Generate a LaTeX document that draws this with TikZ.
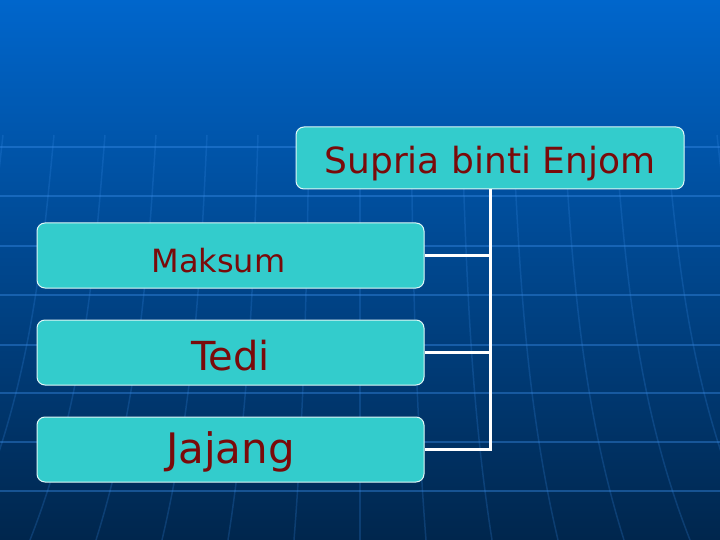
\documentclass[tikz,border=0pt]{standalone}
\usepackage{fontspec}
\setmainfont{DejaVu Sans}
\usepackage{tikz}
\usetikzlibrary{positioning}
\definecolor{bgtop}{HTML}{0066CC}
\definecolor{bgbot}{HTML}{00264D}
\definecolor{boxfill}{HTML}{33CCCC}
\definecolor{namecol}{HTML}{7A0A0A}
\definecolor{gridcol}{HTML}{3B8EEA}

\begin{document}
\begin{tikzpicture}[x=1pt,y=-1pt,
  member/.style={draw=white!85!boxfill,line width=1pt,fill=boxfill,rounded corners=8pt,
    text=namecol,minimum width=387pt,minimum height=65pt,inner sep=0pt,
    text height=31pt,text depth=0pt},
  link/.style={draw=white,line width=3pt},
  parallel/.style={gridcol,line width=2pt,opacity=0.4},
  meridian/.style={gridcol,line width=1.5pt,opacity=0.22}]
% background
\useasboundingbox (0,0) rectangle (720,540);
\shade[top color=bgtop,bottom color=bgbot] (0,0) rectangle (720,540);
\begin{scope}
\clip (0,0) rectangle (720,540);
% globe grid (indicative)
\foreach \y in {147,196,246,295,345,393,442,491}
  \draw[parallel] (0,\y) -- (720,\y);
\foreach \k in {-8,...,8}
  \draw[meridian] (360+\k*51,135) .. controls (360+\k*53,260) and (360+\k*55,400) .. (360+\k*66,540);
\end{scope}
% family boxes
\node[member,minimum width=388pt,minimum height=62pt,font=\fontsize{36}{40}\selectfont] (mother) at (490,158) {Supria binti Enjom};
\node[member,text height=33pt,font=\fontsize{32}{36}\selectfont] (maksum) at (230.5,255.5) {Maksum\kern24pt};
\node[member,text height=35pt,font=\fontsize{40}{44}\selectfont] (tedi) at (230.5,352.5) {Tedi};
\node[member,text height=27pt,font=\fontsize{42}{46}\selectfont] (jajang) at (230.5,449.5) {Jajang};
% connectors
\draw[link] (mother.south) |- (jajang.east);
\draw[link] (maksum.east) -- (maksum.east -| mother.south);
\draw[link] (tedi.east) -- (tedi.east -| mother.south);
\end{tikzpicture}
\end{document}
